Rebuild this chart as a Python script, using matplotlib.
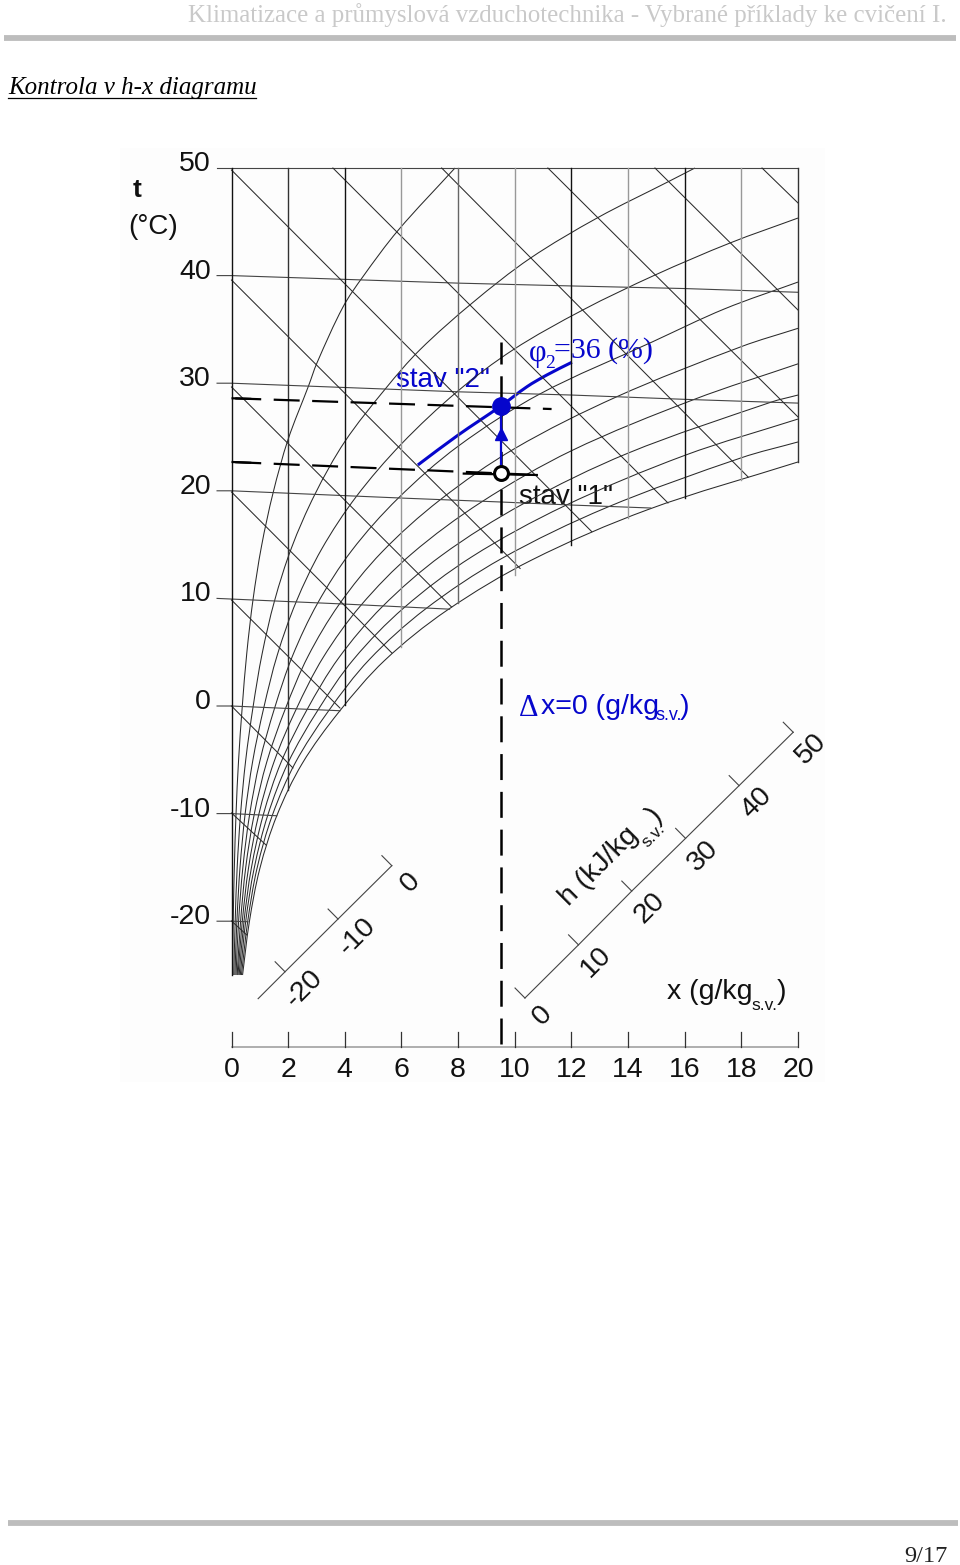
import math
import matplotlib
matplotlib.use("Agg")
import matplotlib.pyplot as plt
from matplotlib.path import Path
from matplotlib.patches import PathPatch

plt.rcParams['lines.scale_dashes'] = False
SANS = 'Liberation Sans'
SERIF = 'Liberation Serif'

# humidity curves, phi = 10 .. 100 %  (x in g/kg, t in deg C as read on the left axis)
phi_10_x = [.04, .06, .1, .16, .25, .38, .54, .76, 1.06, 1.47, 2, 2.72, 3.02, 3.94, 4.64, 5.88, 7.89]
phi_10_t = [-25, -20.01, -15.01, -10.02, -5.03, -.05, 4.92, 9.89, 14.86, 19.83, 24.79, 29.75, 31.9, 37.1, 39.9, 44.2, 50]
phi_20_x = [.08, .13, .2, .32, .5, .76, 1.08, 1.52, 2.12, 2.94, 4, 5.44, 6.65, 8.52, 10.54, 12.94, 15.4, 16.36]
phi_20_t = [-25, -20.01, -15.02, -10.04, -5.07, -.11, 4.84, 9.78, 14.71, 19.65, 24.57, 29.5, 33.1, 37.5, 41.6, 45.4, 48.7, 50]
phi_30_x = [.12, .19, .3, .48, .75, 1.14, 1.62, 2.28, 3.18, 4.41, 6, 7.96, 9.94, 12.4, 14.95, 17.6, 20]
phi_30_t = [-25, -20.02, -15.03, -10.06, -5.1, -.16, 4.77, 9.66, 14.57, 19.48, 24.36, 29.2, 33.1, 36.8, 40.05, 43.03, 45.35]
phi_40_x = [.16, .25, .4, .64, 1.0, 1.52, 2.16, 3.04, 4.24, 5.88, 8, 10.88, 14.85, 17.4, 20]
phi_40_t = [-25, -20.03, -15.04, -10.08, -5.13, -.21, 4.69, 9.55, 14.43, 19.3, 24.14, 28.99, 33.83, 36.9, 39.4]
phi_50_x = [.2, .32, .5, .8, 1.25, 1.9, 2.7, 3.8, 5.3, 7.35, 10, 13.6, 18, 20]
phi_50_t = [-25, -20.03, -15.06, -10.1, -5.16, -.27, 4.61, 9.44, 14.28, 19.13, 23.93, 28.74, 33.4, 35.1]
phi_60_x = [.23, .38, .6, .96, 1.5, 2.28, 3.24, 4.56, 6.36, 8.82, 12, 16.32, 20]
phi_60_t = [-25, -20.04, -15.07, -10.12, -5.2, -.32, 4.53, 9.33, 14.14, 18.95, 23.72, 28.48, 31.8]
phi_70_x = [.27, .44, .7, 1.12, 1.75, 2.66, 3.78, 5.32, 7.42, 10.29, 14, 19.04, 20]
phi_70_t = [-25, -20.04, -15.08, -10.13, -5.23, -.37, 4.45, 9.22, 14.0, 18.78, 23.5, 28.23, 28.9]
phi_80_x = [.31, .5, .8, 1.28, 2.0, 3.04, 4.32, 6.08, 8.48, 11.76, 16, 20]
phi_80_t = [-25, -20.05, -15.09, -10.15, -5.26, -.43, 4.37, 9.11, 13.86, 18.6, 23.29, 26.67]
phi_90_x = [.35, .57, .9, 1.44, 2.25, 3.42, 4.86, 6.84, 9.54, 13.23, 18, 20]
phi_90_t = [-25, -20.06, -15.1, -10.17, -5.29, -.48, 4.3, 9.0, 13.71, 18.43, 23.07, 24.54]
phi_100_x = [.39, .63, 1.0, 1.6, 2.5, 3.8, 5.4, 7.6, 10.6, 14.7, 20]
phi_100_t = [-25, -20.06, -15.11, -10.19, -5.33, -.53, 4.22, 8.88, 13.57, 18.25, 22.68]

# isotherms
iso_50_x = [-.51, 20]
iso_50_t = [50, 50]
iso_40_x = [-.51, 0, 8, 11.97, 15.95, 20]
iso_40_t = [40, 40, 39.3, 39.04, 38.8, 38.45]
iso_30_x = [-.51, 0, 8, 12, 16, 20]
iso_30_t = [30, 30, 29.2, 28.9, 28.5, 28.15]
iso_20_x = [-.51, 0, 5.95, 9.5, 11.97, 14.8]
iso_20_t = [20, 20, 19.33, 18.96, 18.68, 18.4]
iso_10_x = [-.51, 0, 3.94, 7.7]
iso_10_t = [10, 9.94, 9.48, 9.0]
iso_0_x = [-.51, 0, 3.83]
iso_0_t = [0, 0, -.44]
iso_m10_x = [-.51, 0, 1.6]
iso_m10_t = [-10, -10, -10.2]
iso_m20_x = [-.51, 0, .58]
iso_m20_t = [-20, -20, -20.05]

# enthalpy lines: x/t at both ends
h_x0 = [0, 0, 0, 0, 0, 0, 0, 0, 3.58, 7.42, 11.17, 14.95, 18.73]
h_t0 = [49.81, 39.59, 29.65, 19.89, 9.85, 0, -9.94, -19.98, 50, 50, 50, 50, 50]
h_x1 = [12.72, 10.19, 7.77, 5.66, 3.83, 2.17, 1.22, .54, 15.41, 18.24, 20, 20, 20]
h_t1 = [16.2, 12.78, 9.2, 4.93, -.19, -5.76, -12.92, -21.28, 18.87, 21.28, 26.86, 36.8, 46.75]

# vertical x lines, from top of the chart down to the saturation curve
x_ticks = [0, 2, 4, 6, 8, 10, 12, 14, 16, 18, 20]
x_line_end = [-25, -7.8, .09, 5.5, 9.57, 12.17, 14.96, 17.47, 19.33, 21, 22.68]
x_line_col = ['#111111', '#333333', '#111111', '#999999', '#666666', '#999999',
              '#111111', '#999999', '#111111', '#999999', '#333333']
t_ticks = [50, 40, 30, 20, 10, 0, -10, -20]

# the two air states
state_x = 9.53
state1_t = 21.65
state2_t = 27.88
blue_curve_x = [6.58, 7.96, 9.51, 10.43, 11.13, 12.02]
blue_curve_t = [22.4, 25.1, 27.88, 29.67, 30.76, 31.95]
dash_upper_x = [0, 11.3]
dash_upper_t = [28.6, 27.6]
dash_lower_x = [0, 10.78]
dash_lower_t = [22.68, 21.47]
dash_vert_t = [-31.4, 33.8]

# side scales drawn inside the picture
h_scale_x = [10.36, 12.25, 14.13, 16.03, 17.92, 19.83]
h_scale_t = [-27.14, -22.2, -17.2, -12.3, -7.4, -2.44]
h_scale_lab = ['0', '10', '20', '30', '40', '50']
ts_scale_x = [.94, 1.89, 3.76, 5.66]
ts_scale_t = [-27.2, -24.7, -19.8, -14.84]
ts_scale_lab = ['-20', '-10', '0']

BLUE = '#0606cc'
LINE = '#2a2a2a'
TXT = '#111111'
PX_X = 28.325
PX_T = 10.76


def smooth(ax, xs, ts, **kw):
    # curve through the read points, tangent taken from the neighbours
    n = len(xs)
    verts = [(xs[0], ts[0])]
    codes = [Path.MOVETO]
    tang = []
    for i in range(n):
        a, b = max(i - 1, 0), min(i + 1, n - 1)
        dx = (xs[b] - xs[a]) * PX_X
        dy = (ts[b] - ts[a]) * PX_T
        d = math.hypot(dx, dy)
        tang.append((dx / d, dy / d))
    for i in range(n - 1):
        seg = math.hypot((xs[i + 1] - xs[i]) * PX_X, (ts[i + 1] - ts[i]) * PX_T) / 3
        verts.append((xs[i] + tang[i][0] * seg / PX_X, ts[i] + tang[i][1] * seg / PX_T))
        verts.append((xs[i + 1] - tang[i + 1][0] * seg / PX_X, ts[i + 1] - tang[i + 1][1] * seg / PX_T))
        verts.append((xs[i + 1], ts[i + 1]))
        codes += [Path.CURVE4, Path.CURVE4, Path.CURVE4]
    ax.add_patch(PathPatch(Path(verts, codes), fc='none', **kw))


fig = plt.figure(figsize=(9.6, 15.65), dpi=100, facecolor='white')

# page axes in pixels, for page furniture and free labels
page = fig.add_axes([0, 0, 1, 1], zorder=0)
page.set_xlim(0, 960)
page.set_ylim(1565, 0)
page.axis('off')

# diagram axes: x=0 at px 231.5, x=20 at px 798; t=50 at px 168, t=0 at px 706
ax = fig.add_axes([0, 0, 1, 1], zorder=1)
ax.patch.set_alpha(0)
ax.set_xlim(-231.5 / PX_X, (960 - 231.5) / PX_X)
ax.set_ylim(-(1565 - 706) / PX_T, 706 / PX_T)
ax.axis('off')

page.add_patch(plt.Rectangle((120, 148), 705, 934, fc='#fdfdfd', ec='none'))

# header and footer
page.text(947, 15, 'Klimatizace a průmyslová vzduchotechnika - Vybrané příklady ke cvičení I.',
          family=SERIF, fontsize=17.95, color='#c9c9c9', ha='right', va='center')
page.plot([4, 956], [38, 38], color='#bdbdbd', lw=4.2, solid_capstyle='butt')
page.text(8, 88, 'Kontrola v h-x diagramu', family=SERIF, style='italic', fontsize=18,
          color='black', ha='left', va='center')
page.plot([8, 256], [97.5, 97.5], color='black', lw=.9)
page.plot([8, 958], [1523, 1523], color='#bdbdbd', lw=4.2, solid_capstyle='butt')
page.text(948, 1556, '9/17', family=SERIF, fontsize=17.6, color='#222222', ha='right', va='center')

# grid
curves = [(phi_10_x, phi_10_t), (phi_20_x, phi_20_t), (phi_30_x, phi_30_t), (phi_40_x, phi_40_t),
          (phi_50_x, phi_50_t), (phi_60_x, phi_60_t), (phi_70_x, phi_70_t), (phi_80_x, phi_80_t),
          (phi_90_x, phi_90_t), (phi_100_x, phi_100_t)]
for cx, ct in curves:
    smooth(ax, cx, ct, ec=LINE, lw=.75)

isotherms = [(iso_50_x, iso_50_t), (iso_40_x, iso_40_t), (iso_30_x, iso_30_t), (iso_20_x, iso_20_t),
             (iso_10_x, iso_10_t), (iso_0_x, iso_0_t), (iso_m10_x, iso_m10_t), (iso_m20_x, iso_m20_t)]
for cx, ct in isotherms:
    ax.plot(cx, ct, color='#444444', lw=.8)

for i in range(len(h_x0)):
    ax.plot([h_x0[i], h_x1[i]], [h_t0[i], h_t1[i]], color=LINE, lw=.75)

for x, end, col in zip(x_ticks, x_line_end, x_line_col):
    ax.plot([x, x], [50, end], color=col, lw=1.0)

# x axis at the bottom
axis_t = -31.69
ax.plot([0, 20], [axis_t, axis_t], color='#999999', lw=1.1)
for x in x_ticks:
    ax.plot([x, x], [axis_t, axis_t + 1.4], color='#333333', lw=.9)
    ax.annotate(str(x), (x, axis_t), xytext=(0, -23), textcoords='offset pixels', ha='center',
                va='center', family=SANS, fontsize=20.5, color=TXT)
for t in t_ticks:
    ax.annotate(str(t), (-.51, t), xytext=(-6, 4), textcoords='offset pixels', ha='right',
                va='center', family=SANS, fontsize=20.5, color=TXT)

# t scale and h scale
ax.plot(ts_scale_x, ts_scale_t, color='#444444', lw=.8)
for x, t in zip(ts_scale_x[1:], ts_scale_t[1:]):
    ax.plot([x, x - .35], [t, t + .93], color='#444444', lw=.8)
for x, t, lab in zip(ts_scale_x[1:], ts_scale_t[1:], ts_scale_lab):
    ax.annotate(lab, (x, t), xytext=(19, -17), textcoords='offset pixels', rotation=45,
                rotation_mode='anchor', ha='center', va='center', family=SANS, fontsize=20.5, color=TXT)
ax.plot(h_scale_x, h_scale_t, color='#444444', lw=.8)
for x, t, lab in zip(h_scale_x, h_scale_t, h_scale_lab):
    ax.plot([x, x - .35], [t, t + .93], color='#444444', lw=.8)
    ax.annotate(lab, (x, t), xytext=(18, -17), textcoords='offset pixels', rotation=45,
                rotation_mode='anchor', ha='center', va='center', family=SANS, fontsize=20.5, color=TXT)

# state lines
dash = (25, (18.7, 9.0))
ax.plot(dash_upper_x, dash_upper_t, color='black', lw=1.6, ls=dash, dash_capstyle='butt')
ax.plot(dash_lower_x, dash_lower_t, color='black', lw=1.6, ls=dash, dash_capstyle='butt')
# both dashed lines open with a short stub at the axis
ax.plot([0, .7], [dash_upper_t[0], dash_upper_t[0] - .06], color='black', lw=1.6, solid_capstyle='butt')
ax.plot([0, .7], [dash_lower_t[0], dash_lower_t[0] - .08], color='black', lw=1.6, solid_capstyle='butt')
ax.plot([8.2, dash_lower_x[1]], [21.6, dash_lower_t[1]], color='black', lw=1.6)
ax.plot([state_x, state_x], dash_vert_t, color='black', lw=1.8, ls=(0, (18.7, 8.5)), dash_capstyle='butt')
smooth(ax, blue_curve_x, blue_curve_t, ec=BLUE, lw=2.2, capstyle='butt')
ax.plot([state_x, state_x], [state1_t, state2_t], color=BLUE, lw=1.6)
ax.plot([state_x], [25.28], marker='^', ms=8.5, color=BLUE, mec=BLUE, ls='none')
ax.plot([state_x], [state2_t], marker='o', ms=12.5, color=BLUE, mec=BLUE, ls='none', zorder=5)
ax.plot([state_x], [state1_t], marker='o', ms=10, mfc='white', mec='black', mew=2.2, ls='none', zorder=5)


# free labels
def label(x, y, s, size=20.5, color=TXT, family=SANS, **kw):
    kw.setdefault('ha', 'left')
    kw.setdefault('va', 'center')
    page.text(x, y, s, fontsize=size, color=color, family=family, zorder=10, **kw)


label(137, 190, 't', ha='center', fontweight='bold', size=19)
label(153, 227, '(°C)', ha='center', size=20)
label(396, 380, 'stav "2"', color=BLUE, size=20)
label(519, 497, 'stav "1"', size=20)
label(529, 353, 'φ', color=BLUE, family=SERIF, size=22)
label(545, 363, '2', color=BLUE, family=SERIF, size=14)
label(554, 351, '=36 (%)', color=BLUE, family=SERIF, size=21.5)
label(519, 708, 'Δ', color=BLUE, family=SERIF, size=22)
label(541, 707, 'x=0 (g/kg', color=BLUE)
label(656, 716, 's.v.', color=BLUE, size=13)
label(680, 707, ')', color=BLUE)
label(667, 992, 'x (g/kg')
label(751, 1005, 's.v.', size=12.5)
label(777, 992, ')')
label(569, 907, 'h (kJ/kg', rotation=45, rotation_mode='anchor', va='baseline')
label(647, 848, 's.v.', size=12.5, rotation=45, rotation_mode='anchor', va='baseline')
label(655, 815, ')', rotation=45, rotation_mode='anchor', ha='center')

fig.savefig('out.png', dpi=100)
